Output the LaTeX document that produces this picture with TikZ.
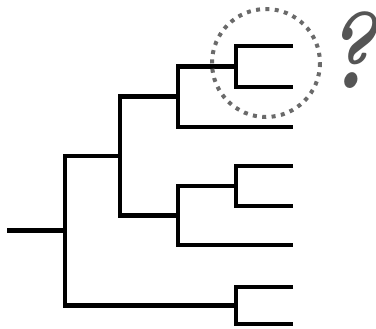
\documentclass[tikz,border=0pt]{standalone}
\usetikzlibrary{calc}
\definecolor{dotgray}{HTML}{6A6A6A}
\definecolor{markgray}{HTML}{555555}
\tikzset{
  branch/.style={line width=4.5pt, line join=miter, line cap=butt, black},
  ring/.style={line width=4pt, dotgray, dash pattern=on 4pt off 5.4pt},
  query/.style={text=markgray, font=\fontsize{108}{108}\selectfont\bfseries\itshape,
    inner sep=0pt, anchor=base}
}
\begin{document}
\begin{tikzpicture}[x=1pt, y=-1pt]
  \useasboundingbox (0,0) rectangle (376,329);
  % leaf tips
  \coordinate (l1) at (293,46);
  \coordinate (l2) at (293,87);
  \coordinate (l3) at (293,127);
  \coordinate (l4) at (293,166);
  \coordinate (l5) at (293,206);
  \coordinate (l6) at (293,245);
  \coordinate (l7) at (293,287);
  \coordinate (l8) at (293,324);
  % internal nodes
  \coordinate (A) at (236,66.5);
  \coordinate (B) at (178,96.75);
  \coordinate (C) at (236,186);
  \coordinate (D) at (178,215.5);
  \coordinate (E) at (120,156);
  \coordinate (F) at (236,305.5);
  \coordinate (G) at (65,230.75);
  \coordinate (root) at (7,230.75);
  % branches
  \draw[branch] (l1) -| (A) |- (l2);
  \draw[branch] (A) -| (B) |- (l3);
  \draw[branch] (l4) -| (C) |- (l5);
  \draw[branch] (C) -| (D) |- (l6);
  \draw[branch] (B) -| (E) |- (D);
  \draw[branch] (l7) -| (F) |- (l8);
  \draw[branch] (E) -| (G) |- (F);
  \draw[branch] (root) -- (G);
  % dotted ring around the uncertain pair
  \draw[ring] (266,63) circle[radius=54];
  % question mark, narrowed
  \node[query] (q) at (350,89) {\scalebox{0.82}[1]{?}};
\end{tikzpicture}
\end{document}
